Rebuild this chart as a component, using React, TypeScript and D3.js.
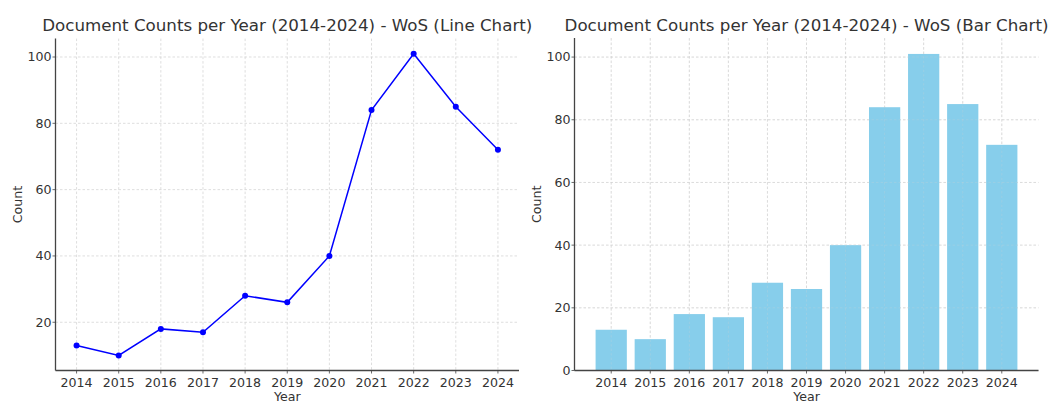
import React from "react";
import * as d3 from "d3";

const years = [2014, 2015, 2016, 2017, 2018, 2019, 2020, 2021, 2022, 2023, 2024];
const counts = [13, 10, 18, 17, 28, 26, 40, 84, 101, 85, 72];
const yTicksLine = [20, 40, 60, 80, 100];
const yTicksBar = [0, 20, 40, 60, 80, 100];

const W = 1049;
const H = 403;
const FONT = "DejaVu Sans, sans-serif";
const TEXT = "#333333";
const SPINE = "#444444";
const GRID = "#d0d0d0";
const TICKFS = 12.6;
const TITLEFS = 16.7;

function LineChart() {
  const left = 55.5, right = 519, top = 38.6, bottom = 370.5;
  const x = d3.scaleLinear().domain([-0.5, 10.5]).range([left, right]);
  const y = d3.scaleLinear().domain([5.45, 105.55]).range([bottom, top]);
  const line = d3.line<number>().x((_, i) => x(i)).y((d) => y(d));
  return (
    <g>
      {years.map((yr, i) => (
        <line key={"vg" + yr} x1={x(i)} x2={x(i)} y1={top} y2={bottom} stroke={GRID} strokeWidth={0.7} strokeDasharray="2.5,2" />
      ))}
      {yTicksLine.map((t) => (
        <line key={"hg" + t} x1={left} x2={right} y1={y(t)} y2={y(t)} stroke={GRID} strokeWidth={0.7} strokeDasharray="2.5,2" />
      ))}
      <path d={line(counts) || ""} fill="none" stroke="#0000ff" strokeWidth={1.5} />
      {counts.map((c, i) => (
        <circle key={"pt" + i} cx={x(i)} cy={y(c)} r={3} fill="#0000ff" />
      ))}
      <line x1={left} x2={left} y1={top} y2={bottom} stroke={SPINE} strokeWidth={1.3} />
      <line x1={left} x2={right} y1={bottom} y2={bottom} stroke={SPINE} strokeWidth={1.3} />
      {yTicksLine.map((t) => (
        <g key={"yt" + t}>
          <line x1={left - 3} x2={left} y1={y(t)} y2={y(t)} stroke={SPINE} strokeWidth={0.8} />
          <text x={left - 4} y={y(t)} dy="0.35em" textAnchor="end" fontSize={TICKFS} fill={TEXT} fontFamily={FONT}>{t}</text>
        </g>
      ))}
      {years.map((yr, i) => (
        <g key={"xt" + yr}>
          <line x1={x(i)} x2={x(i)} y1={bottom} y2={bottom + 3} stroke={SPINE} strokeWidth={0.8} />
          <text x={x(i)} y={bottom + 16.5} textAnchor="middle" fontSize={TICKFS} fill={TEXT} fontFamily={FONT}>{yr}</text>
        </g>
      ))}
      <text x={(left + right) / 2} y={401} textAnchor="middle" fontSize={TICKFS} fill={TEXT} fontFamily={FONT}>Year</text>
      <text transform={`translate(22,${(top + bottom) / 2}) rotate(-90)`} textAnchor="middle" fontSize={TICKFS} fill={TEXT} fontFamily={FONT}>Count</text>
      <text x={(left + right) / 2} y={31} textAnchor="middle" fontSize={TITLEFS} fill={TEXT} fontFamily={FONT}>Document Counts per Year (2014-2024) - WoS (Line Chart)</text>
    </g>
  );
}

function BarChart() {
  const left = 574.5, right = 1038.5, top = 38.1, bottom = 370.5;
  const x = d3.scaleLinear().domain([-0.94, 10.94]).range([left, right]);
  const y = d3.scaleLinear().domain([0, 106.05]).range([bottom, top]);
  const bw = x(0.4) - x(-0.4);
  return (
    <g>
      {years.map((yr, i) => (
        <line key={"vg" + yr} x1={x(i)} x2={x(i)} y1={top} y2={bottom} stroke={GRID} strokeWidth={0.7} strokeDasharray="2.5,2" />
      ))}
      {yTicksBar.map((t) => (
        <line key={"hg" + t} x1={left} x2={right} y1={y(t)} y2={y(t)} stroke={GRID} strokeWidth={0.7} strokeDasharray="2.5,2" />
      ))}
      {counts.map((c, i) => (
        <rect key={"b" + i} x={x(i) - bw / 2} y={y(c)} width={bw} height={bottom - y(c)} fill="#87ceeb" />
      ))}
      {years.map((yr, i) => (
        <line key={"vg2" + yr} x1={x(i)} x2={x(i)} y1={top} y2={bottom} stroke={GRID} strokeOpacity={0.35} strokeWidth={0.7} strokeDasharray="2.5,2" />
      ))}
      {yTicksBar.map((t) => (
        <line key={"hg2" + t} x1={left} x2={right} y1={y(t)} y2={y(t)} stroke={GRID} strokeOpacity={0.35} strokeWidth={0.7} strokeDasharray="2.5,2" />
      ))}
      <line x1={left} x2={left} y1={top} y2={bottom} stroke={SPINE} strokeWidth={1.3} />
      <line x1={left} x2={right} y1={bottom} y2={bottom} stroke={SPINE} strokeWidth={1.3} />
      {yTicksBar.map((t) => (
        <g key={"yt" + t}>
          <line x1={left - 3} x2={left} y1={y(t)} y2={y(t)} stroke={SPINE} strokeWidth={0.8} />
          <text x={left - 4} y={y(t)} dy="0.35em" textAnchor="end" fontSize={TICKFS} fill={TEXT} fontFamily={FONT}>{t}</text>
        </g>
      ))}
      {years.map((yr, i) => (
        <g key={"xt" + yr}>
          <line x1={x(i)} x2={x(i)} y1={bottom} y2={bottom + 3} stroke={SPINE} strokeWidth={0.8} />
          <text x={x(i)} y={bottom + 16.5} textAnchor="middle" fontSize={TICKFS} fill={TEXT} fontFamily={FONT}>{yr}</text>
        </g>
      ))}
      <text x={(left + right) / 2} y={401} textAnchor="middle" fontSize={TICKFS} fill={TEXT} fontFamily={FONT}>Year</text>
      <text transform={`translate(541,${(top + bottom) / 2}) rotate(-90)`} textAnchor="middle" fontSize={TICKFS} fill={TEXT} fontFamily={FONT}>Count</text>
      <text x={(left + right) / 2} y={31} textAnchor="middle" fontSize={TITLEFS} fill={TEXT} fontFamily={FONT}>Document Counts per Year (2014-2024) - WoS (Bar Chart)</text>
    </g>
  );
}

export default function App() {
  return (
    <svg width={W} height={H} style={{ position: "absolute", left: 0, top: 0, background: "#fff" }}>
      <rect width={W} height={H} fill="#fff" />
      <LineChart />
      <BarChart />
    </svg>
  );
}
